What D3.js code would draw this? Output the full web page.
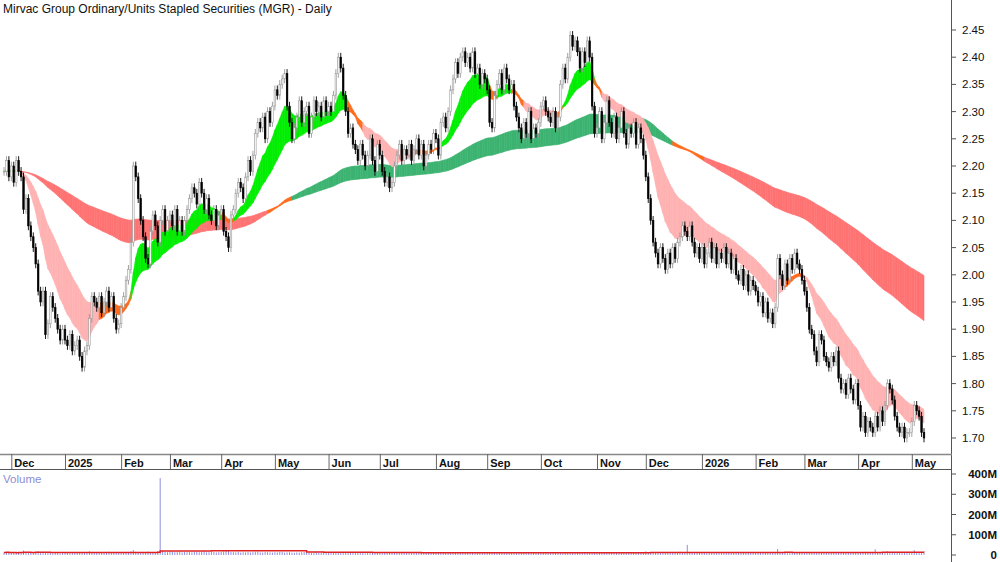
<!DOCTYPE html>
<html><head><meta charset="utf-8">
<script src="https://cdn.jsdelivr.net/npm/d3@7"></script>
<style>body{margin:0;background:#fff}svg{display:block;font-family:"Liberation Sans",Arial,sans-serif}</style>
</head><body><svg id="c" width="1000" height="562"></svg>
<script>
// month keys and daily closes per month
const months = ["2024-11","2024-12","2025-01","2025-02","2025-03","2025-04","2025-05","2025-06","2025-07","2025-08","2025-09","2025-10","2025-11","2025-12","2026-01","2026-02","2026-03","2026-04","2026-05"];
const monthLabels = ["","Dec","2025","Feb","Mar","Apr","May","Jun","Jul","Aug","Sep","Oct","Nov","Dec","2026","Feb","Mar","Apr","May"];
const closesByMonth = [
 [2.19,2.21,2.18],
 [2.20,2.17,2.21,2.19,2.18,2.12,2.14,2.09,2.07,2.05,2.02,1.97,1.95,1.97,1.89,1.91,1.96,1.94,1.92,1.90,1.88,1.90],
 [1.88,1.87,1.89,1.86,1.87,1.88,1.85,1.83,1.86,1.87,1.92,1.96,1.95,1.94,1.96,1.93,1.95,1.97,1.94,1.96,1.92,1.90,1.91],
 [1.94,1.96,1.99,2.01,2.06,2.20,2.18,2.14,2.10,2.07,2.03,2.02,2.08,2.11,2.09,2.06,2.10,2.12,2.08,2.10],
 [2.11,2.09,2.12,2.08,2.10,2.08,2.10,2.12,2.14,2.16,2.15,2.13,2.17,2.15,2.12,2.14,2.11,2.10,2.12,2.09,2.11],
 [2.12,2.08,2.07,2.05,2.11,2.12,2.15,2.17,2.16,2.14,2.18,2.21,2.19,2.22,2.26,2.28,2.27,2.29,2.25,2.30,2.28,2.31],
 [2.34,2.33,2.35,2.36,2.37,2.31,2.28,2.25,2.27,2.29,2.32,2.28,2.30,2.31,2.26,2.29,2.32,2.30,2.31,2.29,2.32,2.30],
 [2.31,2.30,2.33,2.37,2.40,2.38,2.33,2.30,2.26,2.27,2.24,2.23,2.21,2.24,2.22,2.20,2.22,2.25,2.21,2.19,2.24],
 [2.22,2.19,2.17,2.18,2.16,2.17,2.20,2.22,2.24,2.21,2.23,2.22,2.24,2.21,2.23,2.25,2.22,2.24,2.20,2.22,2.24,2.23,2.26],
 [2.25,2.22,2.28,2.29,2.27,2.30,2.34,2.36,2.39,2.37,2.40,2.41,2.39,2.40,2.38,2.41,2.37,2.38,2.35,2.37,2.36],
 [2.34,2.28,2.27,2.33,2.35,2.37,2.34,2.38,2.36,2.34,2.35,2.31,2.29,2.27,2.25,2.28,2.26,2.30,2.25,2.27,2.26,2.28],
 [2.31,2.32,2.30,2.29,2.28,2.30,2.27,2.29,2.35,2.38,2.36,2.40,2.44,2.42,2.43,2.41,2.38,2.41,2.39,2.43,2.40,2.31,2.26],
 [2.27,2.30,2.25,2.28,2.32,2.28,2.26,2.29,2.25,2.27,2.30,2.26,2.24,2.27,2.26,2.28,2.24,2.27,2.25,2.22],
 [2.18,2.14,2.10,2.06,2.04,2.02,2.05,2.03,2.01,2.04,2.02,2.05,2.03,2.06,2.07,2.09,2.08,2.07,2.09,2.06,2.04,2.05,2.03],
 [2.05,2.02,2.04,2.06,2.03,2.05,2.02,2.04,2.03,2.05,2.02,2.04,2.01,2.03,2.00,1.99,2.01,1.98,2.00,1.97,1.99,1.98],
 [1.97,1.95,1.96,1.93,1.95,1.92,1.93,1.91,1.94,2.03,2.00,1.98,2.02,1.99,2.03,2.01,2.04,2.02,2.01,1.99],
 [1.97,1.94,1.90,1.89,1.86,1.84,1.89,1.88,1.85,1.84,1.83,1.85,1.84,1.86,1.81,1.79,1.80,1.78,1.81,1.79,1.77,1.80],
 [1.76,1.72,1.74,1.71,1.73,1.72,1.71,1.74,1.72,1.75,1.73,1.76,1.80,1.79,1.77,1.74,1.72,1.71,1.72,1.70,1.71,1.71],
 [1.73,1.76,1.75,1.74,1.71,1.70]
];
// daily volume in millions per month
const volumeByMonth = [
 [12,14,10],
 [11,13,9,15,12,22,14,11,10,13,16,18,12,10,15,11,9,8,12,10,7,9],
 [10,12,9,11,13,10,15,12,11,14,18,13,12,10,11,15,13,12,16,11,14,12,13],
 [15,12,14,13,18,24,16,13,12,15,14,17,13,12,15,18,380,22,16,14],
 [18,16,14,15,17,13,16,14,15,13,17,16,14,15,18,13,14,16,15,13,14],
 [16,18,20,22,15,14,13,16,12,14,13,15,12,14,16,17,13,12,15,14,13,12],
 [14,13,15,16,12,13,14,12,11,13,12,14,15,13,12,11,13,14,12,11,13,12],
 [12,11,10,13,14,12,11,10,12,11,13,10,12,11,10,9,12,11,10,12,11],
 [10,9,11,12,10,13,11,10,9,12,11,10,12,9,10,11,13,10,9,11,10,12,11],
 [11,13,10,12,14,11,13,12,10,9,12,11,10,13,12,11,9,10,12,11,10],
 [12,11,13,10,12,14,11,10,12,11,13,10,9,12,11,10,12,13,11,10,12,11],
 [11,10,12,9,11,10,12,13,11,10,12,14,15,11,12,13,11,10,12,14,11,13,12],
 [12,11,13,10,14,12,11,10,12,13,11,12,10,11,13,12,11,10,12,13],
 [18,15,14,13,12,14,11,13,12,15,14,12,13,11,16,12,14,50,13,11,12,10,11],
 [10,11,9,12,10,11,13,10,9,11,12,10,11,12,10,13,11,10,12,11,10,12],
 [11,12,10,13,11,12,14,11,13,30,15,13,12,14,11,12,13,11,12,10],
 [14,13,12,15,13,14,12,11,13,12,14,11,12,13,12,11,13,12,11,12,13,11],
 [13,15,14,16,13,12,14,28,15,13,12,14,18,13,12,11,13,12,14,11,12,13],
 [14,24,13,12,14,13]
];
const priceTicks = [1.70,1.75,1.80,1.85,1.90,1.95,2.00,2.05,2.10,2.15,2.20,2.25,2.30,2.35,2.40,2.45];
const volTicks = [0,100,200,300,400];
const shortPeriods = [12,15,20,25,30];
const longPeriods = [120,140,160,180,200];

// build bars
const bars = [], monthStart = [];
months.forEach((m, mi) => {
  const [y, mo] = m.split("-").map(Number);
  let days = d3.timeDay.range(new Date(y, mo-1, 1), new Date(y, mo, 1)).filter(d => d.getDay() > 0 && d.getDay() < 6);
  if (mi === 0) days = days.filter(d => d.getDate() >= 27);
  monthStart.push(bars.length);
  closesByMonth[mi].forEach((c, i) => bars.push({date: days[i], close: c, vol: volumeByMonth[mi][i]}));
});
bars.forEach((b, i) => { b.open = i ? bars[i-1].close : b.close; });

function ema(p) {
  const k = 2/(p+1); let e = bars[0].close;
  return bars.map(b => (e = b.close*k + e*(1-k)));
}
function group(periods, cols) {
  const es = periods.map(ema);
  return bars.map((b, i) => {
    const v = es.map(e => e[i]);
    let up = true, dn = true;
    for (let j = 1; j < v.length; j++) { if (v[j] > v[j-1]) up = false; if (v[j] < v[j-1]) dn = false; }
    return {i, lo: d3.min(v), hi: d3.max(v), col: up ? cols[0] : dn ? cols[1] : cols[2]};
  });
}
const shortG = group(shortPeriods, ["#00ee00", "#ffb2b2", "#ff6a1a"]);
const longG = group(longPeriods, ["#3cb371", "#ff7373", "#ff6a1a"]);

const svg = d3.select("#c");
const x = d3.scaleLinear().domain([0, bars.length-1]).range([4, 924]);
const y = d3.scaleLinear().domain([1.70, 2.45]).range([438, 30]);
const yv = d3.scaleLinear().domain([0, 400]).range([555, 474]);

function drawBand(g) {
  const area = d3.area().x(d => x(d.i)).y0(d => y(d.lo)).y1(d => y(d.hi));
  for (let i = 0; i < g.length-1; i++) {
    svg.append("path").attr("d", area([g[i], g[i+1]])).attr("fill", g[i+1].col).attr("stroke", g[i+1].col).attr("stroke-width", 0.6);
  }
}
drawBand(longG);
drawBand(shortG);

// candles
const cg = svg.append("g");
bars.forEach((b, i) => {
  const up = b.close >= b.open;
  const top = Math.max(b.open, b.close), bot = Math.min(b.open, b.close);
  cg.append("line").attr("x1", x(i)).attr("x2", x(i)).attr("y1", y(top + 0.008)).attr("y2", y(bot - 0.008))
    .attr("stroke", up ? "#999" : "#000").attr("stroke-width", 0.9);
  cg.append("rect").attr("x", x(i) - 0.8).attr("width", 1.6)
    .attr("y", y(top)).attr("height", Math.max(1, y(bot) - y(top)))
    .attr("fill", up ? "#fff" : "#000").attr("stroke", up ? "#999" : "#000").attr("stroke-width", 0.6);
});

// axes frame
svg.append("line").attr("x1", 951.5).attr("x2", 951.5).attr("y1", 0).attr("y2", 562).attr("stroke", "#555");
svg.append("line").attr("x1", 0).attr("x2", 952).attr("y1", 454.5).attr("y2", 454.5).attr("stroke", "#888").attr("stroke-width", 1.5);
svg.append("line").attr("x1", 0).attr("x2", 952).attr("y1", 469.5).attr("y2", 469.5).attr("stroke", "#555");

priceTicks.forEach(t => {
  svg.append("line").attr("x1", 952).attr("x2", 956).attr("y1", y(t)).attr("y2", y(t)).attr("stroke", "#555");
  svg.append("text").attr("x", 962).attr("y", y(t) + 4).attr("font-size", 11.5).attr("fill", "#111").text(t.toFixed(2));
});
monthStart.forEach((s, mi) => {
  if (!monthLabels[mi]) return;
  svg.append("line").attr("x1", x(s) + 0.5).attr("x2", x(s) + 0.5).attr("y1", 454).attr("y2", 469).attr("stroke", "#666");
  svg.append("text").attr("x", x(s) + 3).attr("y", 467).attr("font-size", 11).attr("font-weight", "bold").attr("fill", "#111").text(monthLabels[mi]);
});

// title
svg.append("text").attr("x", 3).attr("y", 13).attr("font-size", 12).attr("fill", "#111").text("Mirvac Group Ordinary/Units Stapled Securities (MGR) - Daily");

// volume
svg.append("text").attr("x", 3).attr("y", 483).attr("font-size", 11.5).attr("fill", "#8d8dd6").text("Volume");
bars.forEach((b, i) => {
  svg.append("line").attr("x1", x(i)).attr("x2", x(i)).attr("y1", yv(0)).attr("y2", yv(b.vol)).attr("stroke", "#8f8fe0").attr("stroke-width", 1);
});
const avg = bars.map((b, i) => { const s = bars.slice(Math.max(0, i-59), i+1); return d3.mean(s, d => d.vol); });
svg.append("path").attr("d", d3.line().x((d, i) => x(i)).y(d => yv(d)).curve(d3.curveStepAfter)(avg))
  .attr("fill", "none").attr("stroke", "#e02020").attr("stroke-width", 1.5);
volTicks.forEach(t => {
  svg.append("line").attr("x1", 952).attr("x2", 956).attr("y1", yv(t)).attr("y2", yv(t)).attr("stroke", "#555");
  svg.append("text").attr("x", 997).attr("y", yv(t) + 4).attr("text-anchor", "end").attr("font-size", 11.5).attr("font-weight", "bold").attr("fill", "#111").text(t === 0 ? "0" : t + "M");
});
</script></body></html>
